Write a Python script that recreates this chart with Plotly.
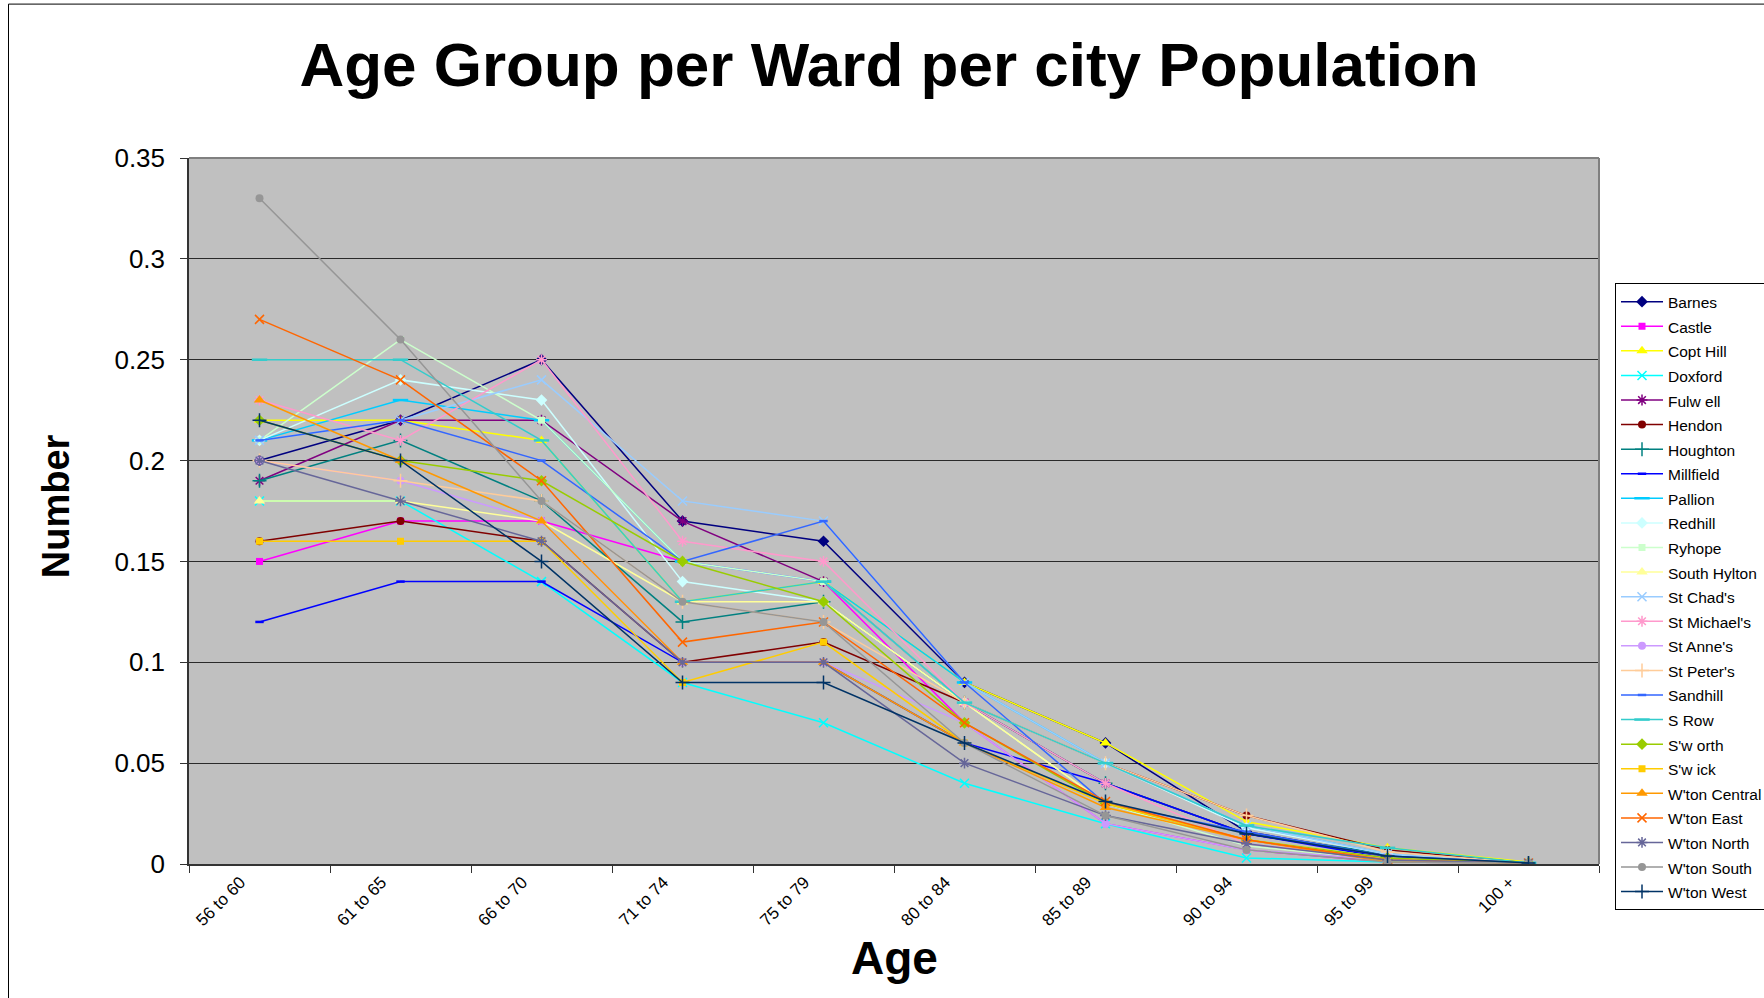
import plotly.graph_objects as go

# Age bands on the category axis
age_groups = ["56 to 60", "61 to 65", "66 to 70", "71 to 74", "75 to 79",
              "80 to 84", "85 to 89", "90 to 94", "95 to 99", "100 +"]

# Share of the ward's older population in each age band
barnes        = [0.20, 0.22, 0.25, 0.17, 0.16, 0.09, 0.060, 0.016, 0.004, 0.0005]
castle        = [0.15, 0.17, 0.17, 0.15, 0.14, 0.07, 0.020, 0.007, 0.001, 0.0005]
copt_hill     = [0.22, 0.22, 0.21, 0.13, 0.14, 0.09, 0.060, 0.021, 0.008, 0.0010]
doxford       = [0.18, 0.18, 0.14, 0.09, 0.07, 0.04, 0.020, 0.003, 0.001, 0.0005]
fulwell       = [0.19, 0.22, 0.22, 0.17, 0.14, 0.08, 0.040, 0.015, 0.004, 0.0005]
hendon        = [0.16, 0.17, 0.16, 0.10, 0.11, 0.08, 0.050, 0.024, 0.007, 0.0005]
houghton      = [0.19, 0.21, 0.18, 0.12, 0.13, 0.08, 0.040, 0.015, 0.005, 0.0005]
millfield     = [0.12, 0.14, 0.14, 0.10, 0.10, 0.06, 0.040, 0.015, 0.003, 0.0005]
pallion       = [0.21, 0.23, 0.22, 0.15, 0.14, 0.09, 0.050, 0.019, 0.005, 0.0005]
redhill       = [0.21, 0.24, 0.23, 0.14, 0.13, 0.08, 0.050, 0.018, 0.005, 0.0005]
ryhope        = [0.21, 0.26, 0.22, 0.15, 0.14, 0.08, 0.030, 0.009, 0.002, 0.0005]
south_hylton  = [0.18, 0.18, 0.17, 0.13, 0.13, 0.08, 0.030, 0.012, 0.003, 0.0005]
st_chads      = [0.21, 0.22, 0.24, 0.18, 0.17, 0.09, 0.050, 0.019, 0.005, 0.0005]
st_michaels   = [0.23, 0.21, 0.25, 0.16, 0.15, 0.08, 0.040, 0.010, 0.003, 0.0005]
st_annes      = [0.20, 0.19, 0.17, 0.10, 0.10, 0.07, 0.020, 0.007, 0.002, 0.0005]
st_peters     = [0.20, 0.19, 0.18, 0.13, 0.12, 0.08, 0.050, 0.024, 0.006, 0.0005]
sandhill      = [0.21, 0.22, 0.20, 0.15, 0.17, 0.09, 0.030, 0.016, 0.004, 0.0005]
s_row         = [0.25, 0.25, 0.21, 0.13, 0.14, 0.08, 0.050, 0.019, 0.008, 0.0005]
s_worth       = [0.22, 0.20, 0.19, 0.15, 0.13, 0.07, 0.030, 0.012, 0.003, 0.0005]
s_wick        = [0.16, 0.16, 0.16, 0.09, 0.11, 0.06, 0.030, 0.012, 0.002, 0.0005]
wton_central  = [0.23, 0.20, 0.17, 0.10, 0.10, 0.06, 0.028, 0.012, 0.001, 0.0005]
wton_east     = [0.27, 0.24, 0.19, 0.11, 0.12, 0.07, 0.031, 0.012, 0.002, 0.0005]
wton_north    = [0.20, 0.18, 0.16, 0.10, 0.10, 0.05, 0.024, 0.010, 0.002, 0.0005]
wton_south    = [0.33, 0.26, 0.18, 0.13, 0.12, 0.06, 0.024, 0.007, 0.001, 0.0005]
wton_west     = [0.22, 0.20, 0.15, 0.09, 0.09, 0.06, 0.031, 0.015, 0.004, 0.0005]

ward_names = ["Barnes", "Castle", "Copt Hill", "Doxford", "Fulw ell", "Hendon",
              "Houghton", "Millfield", "Pallion", "Redhill", "Ryhope",
              "South Hylton", "St Chad's", "St Michael's", "St Anne's",
              "St Peter's", "Sandhill", "S Row", "S'w orth", "S'w ick",
              "W'ton Central", "W'ton East", "W'ton North", "W'ton South",
              "W'ton West"]
ward_values = [barnes, castle, copt_hill, doxford, fulwell, hendon, houghton,
               millfield, pallion, redhill, ryhope, south_hylton, st_chads,
               st_michaels, st_annes, st_peters, sandhill, s_row, s_worth,
               s_wick, wton_central, wton_east, wton_north, wton_south,
               wton_west]

y_ticks = [0, 0.05, 0.1, 0.15, 0.2, 0.25, 0.3, 0.35]
y_tick_text = ["0", "0.05", "0.1", "0.15", "0.2", "0.25", "0.3", "0.35"]

# Classic spreadsheet series palette and marker cycle
palette = ["#000080", "#FF00FF", "#FFFF00", "#00FFFF", "#800080", "#800000",
           "#008080", "#0000FF", "#00CCFF", "#CCFFFF", "#CCFFCC", "#FFFF99",
           "#99CCFF", "#FF99CC", "#CC99FF", "#FFCC99", "#3366FF", "#33CCCC",
           "#99CC00", "#FFCC00", "#FF9900", "#FF6600", "#666699", "#969696",
           "#003366"]
marker_cycle = ["diamond", "square", "triangle", "x", "star", "circle", "plus",
                "dash_s", "dash_l"]


def marker_for(kind, color):
    if kind == "diamond":
        return dict(symbol="diamond", size=9, color=color, line=dict(width=0))
    if kind == "square":
        return dict(symbol="square", size=7, color=color, line=dict(width=0))
    if kind == "triangle":
        return dict(symbol="triangle-up", size=10, color=color, line=dict(width=0))
    if kind == "x":
        return dict(symbol="x-thin-open", size=9, color=color,
                    line=dict(width=1.5, color=color))
    if kind == "star":
        return dict(symbol="asterisk-open", size=9, color=color,
                    line=dict(width=1.5, color=color))
    if kind == "circle":
        return dict(symbol="circle", size=8, color=color, line=dict(width=0))
    if kind == "plus":
        return dict(symbol="cross-thin-open", size=10, color=color,
                    line=dict(width=1.5, color=color))
    if kind == "dash_s":
        return dict(symbol="line-ew-open", size=6, color=color,
                    line=dict(width=2.5, color=color))
    return dict(symbol="line-ew-open", size=11, color=color,
                line=dict(width=2.5, color=color))


FONT = "Liberation Sans, Arial, sans-serif"

fig = go.Figure()
for i, (name, vals) in enumerate(zip(ward_names, ward_values)):
    color = palette[i]
    fig.add_trace(go.Scatter(
        x=age_groups, y=vals, mode="lines+markers",
        name='<span style="font-size:15.5px">' + name + "</span>",
        line=dict(color=color, width=1.5),
        marker=marker_for(marker_cycle[i % len(marker_cycle)], color),
    ))

# Plot area in pixels: left 189, right 1599, top 157.5, bottom 864
L, R, T, B = 189, 1599, 157.5, 864
W, H = 1764, 998
pw, ph = R - L, B - T


def px_x(x):
    return (x - L) / pw


def px_y(y):
    return (B - y) / ph


fig.update_layout(
    width=W, height=H,
    margin=dict(l=L, r=W - R, t=T, b=H - B, autoexpand=False),
    paper_bgcolor="white",
    plot_bgcolor="#C0C0C0",
    font=dict(family=FONT, color="black"),
    title=dict(text="Age Group per Ward per city Population",
               font=dict(family=FONT, size=62, color="black", weight="bold"),
               x=889 / W, xref="container", xanchor="center",
               y=1 - 64 / H, yref="container", yanchor="middle"),
    showlegend=True,
    legend=dict(x=px_x(1615), y=px_y(283), xanchor="left", yanchor="top",
                bgcolor="white", bordercolor="black", borderwidth=1,
                font=dict(family=FONT, size=16.6, color="black"),
                itemwidth=42, tracegroupgap=0),
    xaxis=dict(type="category", tickson="boundaries", ticks="outside",
               ticklen=7, tickcolor="#333", tickwidth=1,
               showline=True, linecolor="#333", linewidth=1.5,
               showgrid=False, tickangle=-45, ticklabelshift=-19,
               tickfont=dict(family=FONT, size=17, color="black"),
               range=[-0.5, 9.5], fixedrange=True),
    yaxis=dict(range=[0, 0.35], tickvals=y_ticks, ticktext=y_tick_text,
               ticks="outside", ticklen=7, tickcolor="#333",
               showline=True, linecolor="#333", linewidth=1.5,
               showgrid=True, gridcolor="#2a2a2a", gridwidth=1.2,
               zeroline=False, ticklabelstandoff=10,
               tickfont=dict(family=FONT, size=26, color="black"),
               fixedrange=True),
    annotations=[
        dict(text="<b>Number</b>", x=px_x(56), y=px_y(506), xref="paper",
             yref="paper", showarrow=False, textangle=-90,
             font=dict(family=FONT, size=38, color="black"),
             xanchor="center", yanchor="middle"),
        dict(text="<b>Age</b>", x=px_x(894), y=px_y(958), xref="paper",
             yref="paper", showarrow=False,
             font=dict(family=FONT, size=46, color="black"),
             xanchor="center", yanchor="middle"),
    ],
    shapes=[
        # outer chart border
        dict(type="rect", xref="paper", yref="paper",
             x0=px_x(8.5), x1=px_x(1800), y0=px_y(1010), y1=px_y(3.5),
             line=dict(color="black", width=1), fillcolor="rgba(0,0,0,0)",
             layer="below"),
        # plot area top and right edges
        dict(type="line", xref="paper", yref="paper", x0=0, x1=1, y0=1, y1=1,
             line=dict(color="#808080", width=2)),
        dict(type="line", xref="paper", yref="paper", x0=1, x1=1, y0=0, y1=1,
             line=dict(color="#808080", width=2)),
    ],
)

fig.write_html("out.html")
